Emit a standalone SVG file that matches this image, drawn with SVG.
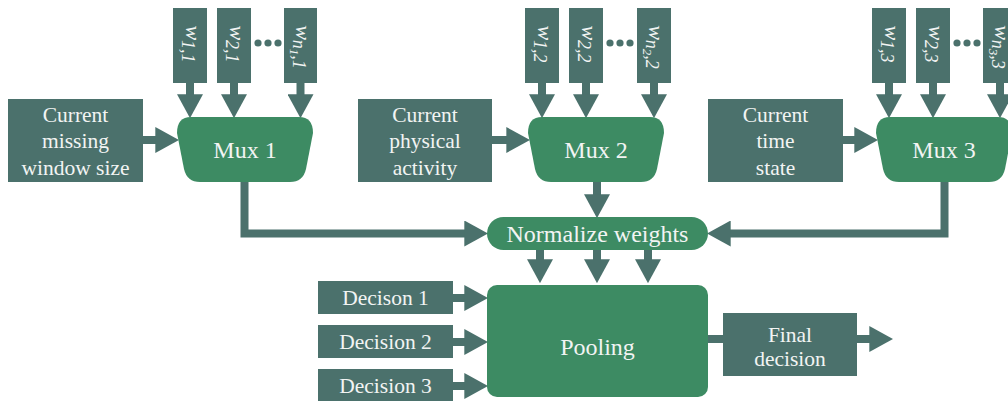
<svg xmlns="http://www.w3.org/2000/svg" width="1008" height="401" viewBox="0 0 1008 401">
<style>
.box{fill:#4b716c}
.grn{fill:#3d8b63}
text{font-family:"Liberation Serif","DejaVu Serif",serif;fill:#f2f4f3;text-anchor:middle}
.t{font-size:21.5px}
.tb{font-size:24px}
.w{font-style:italic;font-size:22px}
.c{fill:none;stroke:#4b716c;stroke-width:8}
.dot{fill:#4b716c}
</style>
<defs>
<marker id="ah" markerUnits="userSpaceOnUse" markerWidth="24" markerHeight="26" viewBox="0 0 22 24" refX="8" refY="12" orient="auto">
<path d="M0,0 L22,12 L0,24 Z" fill="#4b716c"/>
</marker>
<path id="mux" d="M14 0 H122 Q136 0 136 16 L129 52 Q126 65 113 65 H23 Q10 65 7 52 L0 16 Q0 0 14 0 Z"/>
</defs>

<g id="connectors">
<path class="c" marker-end="url(#ah)" d="M190 83 V103"/>
<path class="c" marker-end="url(#ah)" d="M234 83 V103"/>
<path class="c" marker-end="url(#ah)" d="M300.5 83 V103"/>
<path class="c" marker-end="url(#ah)" d="M542 83 V103"/>
<path class="c" marker-end="url(#ah)" d="M586 83 V103"/>
<path class="c" marker-end="url(#ah)" d="M654 83 V103"/>
<path class="c" marker-end="url(#ah)" d="M889 83 V103"/>
<path class="c" marker-end="url(#ah)" d="M933 83 V103"/>
<path class="c" marker-end="url(#ah)" d="M1000 83 V103"/>
<path class="c" marker-end="url(#ah)" d="M143 140 H164"/>
<path class="c" marker-end="url(#ah)" d="M492 140 H515"/>
<path class="c" marker-end="url(#ah)" d="M843 140 H863"/>
<path class="c" marker-end="url(#ah)" d="M244.5 182 V233.5 H473"/>
<path class="c" marker-end="url(#ah)" d="M597 182 V203"/>
<path class="c" marker-end="url(#ah)" d="M944.5 182 V233.5 H722"/>
<path class="c" marker-end="url(#ah)" d="M540 250 V268"/>
<path class="c" marker-end="url(#ah)" d="M597 250 V268"/>
<path class="c" marker-end="url(#ah)" d="M648 250 V268"/>
<path class="c" marker-end="url(#ah)" d="M453 298 H473"/>
<path class="c" marker-end="url(#ah)" d="M453 342 H473"/>
<path class="c" marker-end="url(#ah)" d="M453 386 H473"/>
<path class="c" d="M706 339 H725"/>
<path class="c" marker-end="url(#ah)" d="M857 339 H878"/>
<circle class="dot" cx="258" cy="43" r="3.6"/>
<circle class="dot" cx="268" cy="43" r="3.6"/>
<circle class="dot" cx="278" cy="43" r="3.6"/>
<circle class="dot" cx="610" cy="43" r="3.6"/>
<circle class="dot" cx="620" cy="43" r="3.6"/>
<circle class="dot" cx="630" cy="43" r="3.6"/>
<circle class="dot" cx="957" cy="43" r="3.6"/>
<circle class="dot" cx="967" cy="43" r="3.6"/>
<circle class="dot" cx="977" cy="43" r="3.6"/>
</g>

<g id="w11"><rect class="box" x="173" y="8" width="34" height="75"/><text class="w" transform="translate(186,44) rotate(90)">w<tspan font-size="18" dy="4">1,1</tspan></text></g>
<g id="w21"><rect class="box" x="217" y="8" width="34" height="75"/><text class="w" transform="translate(230,44) rotate(90)">w<tspan font-size="18" dy="4">2,1</tspan></text></g>
<g id="wn11"><rect class="box" x="284" y="8" width="33" height="75"/><text class="w" transform="translate(296,47) rotate(90)">w<tspan font-size="18" dy="3">n</tspan><tspan font-size="13" dy="3">1</tspan><tspan font-size="18" dy="-3">,1</tspan></text></g>

<g id="w12"><rect class="box" x="525" y="8" width="34" height="75"/><text class="w" transform="translate(538,44) rotate(90)">w<tspan font-size="18" dy="4">1,2</tspan></text></g>
<g id="w22"><rect class="box" x="569" y="8" width="34" height="75"/><text class="w" transform="translate(582,44) rotate(90)">w<tspan font-size="18" dy="4">2,2</tspan></text></g>
<g id="wn22"><rect class="box" x="637" y="8" width="34" height="75"/><text class="w" transform="translate(649,47) rotate(90)">w<tspan font-size="18" dy="3">n</tspan><tspan font-size="13" dy="3">2</tspan><tspan font-size="18" dy="-3">,2</tspan></text></g>

<g id="w13"><rect class="box" x="872" y="8" width="34" height="75"/><text class="w" transform="translate(885,44) rotate(90)">w<tspan font-size="18" dy="4">1,3</tspan></text></g>
<g id="w23"><rect class="box" x="916" y="8" width="34" height="75"/><text class="w" transform="translate(929,44) rotate(90)">w<tspan font-size="18" dy="4">2,3</tspan></text></g>
<g id="wn33"><rect class="box" x="983" y="8" width="34" height="75"/><text class="w" transform="translate(995,47) rotate(90)">w<tspan font-size="18" dy="3">n</tspan><tspan font-size="13" dy="3">3</tspan><tspan font-size="18" dy="-3">,3</tspan></text></g>

<g id="ctx1"><rect class="box" x="8" y="99" width="135" height="83"/>
<text class="t" x="75.5" y="122">Current</text><text class="t" x="75.5" y="148">missing</text><text class="t" x="75.5" y="175">window size</text></g>
<g id="ctx2"><rect class="box" x="358" y="99" width="134" height="83"/>
<text class="t" x="425" y="122">Current</text><text class="t" x="425" y="148">physical</text><text class="t" x="425" y="175">activity</text></g>
<g id="ctx3"><rect class="box" x="708" y="99" width="135" height="83"/>
<text class="t" x="775.5" y="122">Current</text><text class="t" x="775.5" y="148">time</text><text class="t" x="775.5" y="175">state</text></g>

<g id="mux1"><use href="#mux" class="grn" x="177" y="117"/><text class="tb" x="245" y="158">Mux 1</text></g>
<g id="mux2"><use href="#mux" class="grn" x="528" y="117"/><text class="tb" x="596" y="158">Mux 2</text></g>
<g id="mux3"><use href="#mux" class="grn" x="876" y="117"/><text class="tb" x="944" y="158">Mux 3</text></g>

<g id="normalize"><rect class="grn" x="487" y="217" width="221" height="33" rx="16.5"/><text class="tb" x="597.5" y="242">Normalize weights</text></g>

<g id="dec1"><rect class="box" x="318" y="281" width="135" height="33"/><text class="t" x="385.5" y="305">Decison 1</text></g>
<g id="dec2"><rect class="box" x="318" y="325" width="135" height="33"/><text class="t" x="385.5" y="349">Decision 2</text></g>
<g id="dec3"><rect class="box" x="318" y="369" width="135" height="33"/><text class="t" x="385.5" y="393">Decision 3</text></g>

<g id="pooling"><rect class="grn" x="487" y="285" width="221" height="112" rx="10"/><text class="tb" x="597.5" y="355">Pooling</text></g>

<g id="final"><rect class="box" x="723" y="313" width="134" height="63"/><text class="t" x="790" y="342">Final</text><text class="t" x="790" y="366">decision</text></g>
</svg>
